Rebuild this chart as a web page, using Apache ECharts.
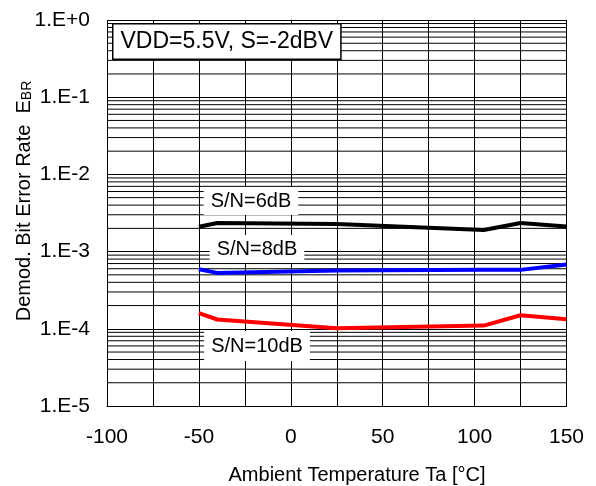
<!DOCTYPE html>
<html><head><meta charset="utf-8">
<script src="https://cdn.jsdelivr.net/npm/echarts@6/dist/echarts.min.js"></script>
<style>html,body{margin:0;padding:0;background:#fff}#c{width:596px;height:486px}</style>
</head><body><div id="c"></div>
<script>
// Data
var temps = [-50, -40, 25, 105, 125, 150];
var sn6dB = [2.1e-3, 2.35e-3, 2.28e-3, 1.9e-3, 2.35e-3, 2.12e-3];
var sn8dB = [5.9e-4, 5.3e-4, 5.7e-4, 5.8e-4, 5.8e-4, 6.8e-4];
var sn10dB = [1.6e-4, 1.32e-4, 1.02e-4, 1.1e-4, 1.5e-4, 1.33e-4];
var seriesNames = ['S/N=6dB', 'S/N=8dB', 'S/N=10dB'];
var xTicks = [-100, -50, 0, 50, 100, 150];
var condition = 'VDD=5.5V, S=-2dBV';

var minorVals = [];
for (var e = -5; e < 0; e++) for (var m = 2; m <= 9; m++) minorVals.push(m * Math.pow(10, e));

function pairs(ys){ return temps.map(function(t,i){ return [t, ys[i]]; }); }
var FONT = 'Liberation Sans, Arial, sans-serif';

var gridSeries = minorVals.map(function(v){
  return {type: 'line', data: [[-100, v], [150, v]], silent: true, z: 1, showSymbol: false,
          lineStyle: {color: '#000', width: 1}, emphasis: {disabled: true}};
});

var chart = echarts.init(document.getElementById('c'), null, {renderer:'canvas'});
chart.setOption({
  animation: false,
  backgroundColor: '#fff',
  grid: {left: 107, right: 29.5, top: 20, bottom: 80, show: false},
  xAxis: {
    type: 'value', min: -100, max: 150, interval: 25,
    axisLine: {show: true, lineStyle: {color: '#000', width: 1}},
    axisTick: {show: false},
    splitLine: {show: true, lineStyle: {color: '#000', width: 1}},
    axisLabel: {
      margin: 21, color: '#000', fontFamily: FONT, fontSize: 21,
      formatter: function(v){ return xTicks.indexOf(v) >= 0 ? String(v) : ''; }
    }
  },
  yAxis: {
    type: 'log', logBase: 10, min: 1e-5, max: 1,
    axisLine: {show: true, lineStyle: {color: '#000', width: 1}},
    axisTick: {show: false},
    splitLine: {show: true, lineStyle: {color: '#000', width: 1}},
    axisLabel: {
      margin: 17, color: '#000', fontFamily: FONT, fontSize: 21,
      formatter: function(v){ var e = Math.round(Math.log10(v)); return '1.E' + (e >= 0 ? '+' : '') + e; }
    }
  },
  series: gridSeries.concat([
    {name: seriesNames[0], type: 'line', data: pairs(sn6dB), showSymbol: false, z: 5,
     lineStyle: {color: '#000', width: 4}},
    {name: seriesNames[1], type: 'line', data: pairs(sn8dB), showSymbol: false, z: 5,
     lineStyle: {color: '#0000ff', width: 4}},
    {name: seriesNames[2], type: 'line', data: pairs(sn10dB), showSymbol: false, z: 5,
     lineStyle: {color: '#ff0000', width: 4}}
  ]),
  graphic: [
    {type: 'text', left: 112, top: 23, z: 100,
     style: {text: condition, font: '23px ' + FONT, fill: '#000',
       backgroundColor: '#fff', borderColor: '#000', borderWidth: 1.5, padding: [6, 7, 5, 7]}},
    {type: 'text', x: 251, y: 201, z: 100,
     style: {text: seriesNames[0], font: '20px ' + FONT, fill: '#000', align: 'center', verticalAlign: 'middle',
       backgroundColor: '#fff', padding: [4, 7, 4, 7]}},
    {type: 'text', x: 257, y: 249, z: 100,
     style: {text: seriesNames[1], font: '20px ' + FONT, fill: '#000', align: 'center', verticalAlign: 'middle',
       backgroundColor: '#fff', padding: [4, 7, 4, 7]}},
    {type: 'text', x: 257, y: 346, z: 100,
     style: {text: seriesNames[2], font: '20px ' + FONT, fill: '#000', align: 'center', verticalAlign: 'middle',
       backgroundColor: '#fff', padding: [5, 7, 5, 7]}},
    {type: 'text', x: 357, y: 475, z: 100,
     style: {text: 'Ambient Temperature Ta [°C]', font: '20px ' + FONT, fill: '#000', align: 'center', verticalAlign: 'middle'}},
    {type: 'text', x: 22, y: 201, rotation: Math.PI/2, z: 100,
     style: {text: '{a|Demod. Bit Error Rate  E}{s|BR}', align: 'center', verticalAlign: 'middle',
       rich: {a: {font: '20px ' + FONT, fill: '#000', lineHeight: 24, verticalAlign: 'bottom'},
              s: {font: '14px ' + FONT, fill: '#000', lineHeight: 24, verticalAlign: 'bottom'}}}}
  ]
});
</script></body></html>
